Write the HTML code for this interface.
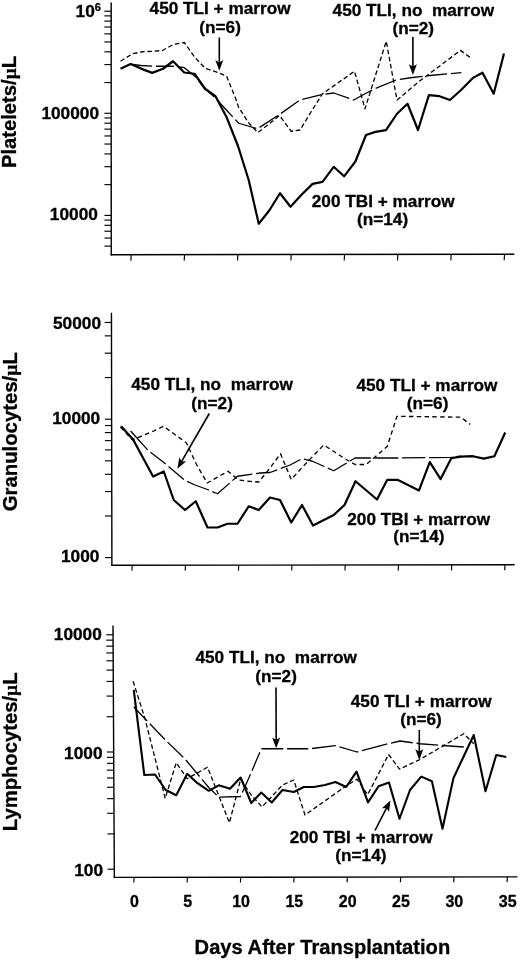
<!DOCTYPE html>
<html><head><meta charset="utf-8"><title>Figure</title>
<style>
html,body{margin:0;padding:0;background:#fff;}
svg{display:block;}
text{font-family:"Liberation Sans",sans-serif;font-weight:bold;fill:#000;stroke:#000;stroke-width:0.3px;}
.mu{font-family:"Liberation Serif","DejaVu Serif",serif;font-weight:bold;font-size:19px;}
</style></head><body>
<svg width="520" height="960" viewBox="0 0 520 960">
<rect width="520" height="960" fill="#fff"/>
<line x1="111.15" y1="2.40" x2="111.25" y2="255.40" stroke="#000" stroke-width="1.4" />
<line x1="110.55" y1="254.70" x2="514.30" y2="254.30" stroke="#000" stroke-width="1.4" />
<line x1="104.35" y1="11.20" x2="111.15" y2="11.20" stroke="#000" stroke-width="1.15" />
<line x1="104.36" y1="15.87" x2="111.16" y2="15.87" stroke="#000" stroke-width="1.15" />
<line x1="104.36" y1="21.09" x2="111.16" y2="21.09" stroke="#000" stroke-width="1.15" />
<line x1="104.36" y1="27.02" x2="111.16" y2="27.02" stroke="#000" stroke-width="1.15" />
<line x1="104.36" y1="33.85" x2="111.16" y2="33.85" stroke="#000" stroke-width="1.15" />
<line x1="104.37" y1="41.94" x2="111.17" y2="41.94" stroke="#000" stroke-width="1.15" />
<line x1="104.37" y1="51.83" x2="111.17" y2="51.83" stroke="#000" stroke-width="1.15" />
<line x1="104.37" y1="64.59" x2="111.17" y2="64.59" stroke="#000" stroke-width="1.15" />
<line x1="104.38" y1="82.56" x2="111.18" y2="82.56" stroke="#000" stroke-width="1.15" />
<line x1="104.39" y1="113.30" x2="111.19" y2="113.30" stroke="#000" stroke-width="1.15" />
<line x1="104.40" y1="117.97" x2="111.20" y2="117.97" stroke="#000" stroke-width="1.15" />
<line x1="104.40" y1="123.19" x2="111.20" y2="123.19" stroke="#000" stroke-width="1.15" />
<line x1="104.40" y1="129.12" x2="111.20" y2="129.12" stroke="#000" stroke-width="1.15" />
<line x1="104.40" y1="135.95" x2="111.20" y2="135.95" stroke="#000" stroke-width="1.15" />
<line x1="104.41" y1="144.04" x2="111.21" y2="144.04" stroke="#000" stroke-width="1.15" />
<line x1="104.41" y1="153.93" x2="111.21" y2="153.93" stroke="#000" stroke-width="1.15" />
<line x1="104.42" y1="166.69" x2="111.22" y2="166.69" stroke="#000" stroke-width="1.15" />
<line x1="104.42" y1="184.66" x2="111.22" y2="184.66" stroke="#000" stroke-width="1.15" />
<line x1="104.43" y1="215.40" x2="111.23" y2="215.40" stroke="#000" stroke-width="1.15" />
<line x1="104.44" y1="220.07" x2="111.24" y2="220.07" stroke="#000" stroke-width="1.15" />
<line x1="104.44" y1="225.29" x2="111.24" y2="225.29" stroke="#000" stroke-width="1.15" />
<line x1="104.44" y1="231.22" x2="111.24" y2="231.22" stroke="#000" stroke-width="1.15" />
<line x1="104.44" y1="238.05" x2="111.24" y2="238.05" stroke="#000" stroke-width="1.15" />
<line x1="104.45" y1="246.14" x2="111.25" y2="246.14" stroke="#000" stroke-width="1.15" />
<line x1="131.20" y1="254.68" x2="130.90" y2="260.68" stroke="#000" stroke-width="1.15" />
<line x1="184.53" y1="254.63" x2="184.23" y2="260.63" stroke="#000" stroke-width="1.15" />
<line x1="237.86" y1="254.57" x2="237.56" y2="260.57" stroke="#000" stroke-width="1.15" />
<line x1="291.19" y1="254.52" x2="290.89" y2="260.52" stroke="#000" stroke-width="1.15" />
<line x1="344.52" y1="254.47" x2="344.22" y2="260.47" stroke="#000" stroke-width="1.15" />
<line x1="397.85" y1="254.42" x2="397.55" y2="260.42" stroke="#000" stroke-width="1.15" />
<line x1="451.18" y1="254.36" x2="450.88" y2="260.36" stroke="#000" stroke-width="1.15" />
<line x1="504.51" y1="254.31" x2="504.21" y2="260.31" stroke="#000" stroke-width="1.15" />
<text transform="translate(99.00,119.00) scale(1.08,1.0)" font-size="16" text-anchor="end" >100000</text>
<text transform="translate(97.90,220.10) scale(1.08,1.0)" font-size="16" text-anchor="end" >10000</text>
<text transform="translate(75.6,16.5) scale(1.05,1)" font-size="16.5">10<tspan font-size="10.5" dy="-5.6">6</tspan></text>
<text transform="translate(15.8,168.1) rotate(-90) scale(1.012,1.0)" font-size="20">Platelets/<tspan class="mu">µ</tspan>L</text>
<polyline points="130.50,64.25 141.00,65.50 152.50,66.25 172.50,66.25 184.00,67.50 195.00,76.25 205.00,88.75 215.00,97.50 227.50,111.25 238.75,123.25 257.50,128.75 278.75,115.00 300.00,100.00 322.50,94.50 333.75,93.00 353.75,100.00 365.00,93.75 375.00,88.75 396.00,80.00 412.50,77.50 430.00,75.50 461.30,72.70" fill="none" stroke="#000" stroke-width="1.3" stroke-linejoin="round" stroke-dasharray="21.7 3.8 18.1 3.8 21.8 3.8 23.2 3.8 23.3 3.8 23.2 3.8 21.8 3.8 21.8 3.8 19.9 3.8 24.8 3.8 22.0 3.8 22.1 3.8 23.0 3.8 20.8 3.8 15.5 0"/>
<polyline points="120.50,61.25 132.50,53.75 142.50,51.75 152.50,51.25 162.50,50.50 173.75,44.25 184.25,42.50 195.00,57.50 205.10,68.20 219.20,73.00 226.60,76.30 235.50,98.20 238.75,107.50 248.75,123.00 257.80,132.60 269.00,124.00 279.50,115.50 291.25,131.25 300.00,130.00 311.00,112.00 322.50,93.75 354.50,71.25 365.00,108.75 386.25,41.25 397.00,100.00 420.00,80.80 460.40,50.40 472.00,58.70" fill="none" stroke="#000" stroke-width="1.3" stroke-linejoin="round" stroke-dasharray="4.6 2.7"/>
<polyline points="120.50,68.75 130.60,64.10 141.00,68.60 152.20,72.90 163.00,68.75 173.00,61.25 184.25,72.50 194.50,73.75 205.00,88.75 215.50,96.25 226.50,117.00 238.00,146.00 248.70,180.00 258.75,223.75 269.25,210.50 280.00,193.25 290.50,206.75 301.25,195.00 312.60,183.90 322.50,181.80 333.70,166.80 344.10,176.30 355.40,161.50 366.00,135.00 375.50,131.90 386.00,130.20 397.00,113.75 407.50,103.75 418.00,130.00 428.90,95.10 439.50,96.20 450.00,100.00 461.30,89.80 472.90,77.90 482.50,72.70 493.70,93.70 504.00,53.50" fill="none" stroke="#000" stroke-width="2.2" stroke-linejoin="round"/>
<text transform="translate(149.60,14.40) scale(1.0,0.97)" font-size="17.2" text-anchor="start" >450 TLI + marrow</text>
<text transform="translate(199.30,33.20) scale(1.0,0.97)" font-size="17.2" text-anchor="start" >(n=6)</text>
<line x1="219.30" y1="37.50" x2="219.30" y2="67.80" stroke="#000" stroke-width="1.6" />
<polygon points="219.30,70.80 215.30,60.00 219.30,62.38 223.30,60.00" fill="#000"/>
<text transform="translate(332.60,15.70) scale(1.0,0.97)" font-size="17.2" text-anchor="start" xml:space="preserve" style="white-space:pre">450 TLI, no  marrow</text>
<text transform="translate(392.40,34.40) scale(1.0,0.97)" font-size="17.2" text-anchor="start" >(n=2)</text>
<line x1="412.90" y1="37.00" x2="412.90" y2="72.00" stroke="#000" stroke-width="1.6" />
<polygon points="412.90,75.00 408.90,64.20 412.90,66.58 416.90,64.20" fill="#000"/>
<text transform="translate(311.80,206.80) scale(1.0,0.97)" font-size="17.2" text-anchor="start" >200 TBI + marrow</text>
<text transform="translate(357.00,224.50) scale(1.0,0.97)" font-size="17.2" text-anchor="start" >(n=14)</text>
<line x1="111.45" y1="312.80" x2="111.90" y2="566.00" stroke="#000" stroke-width="1.4" />
<line x1="111.20" y1="565.30" x2="514.60" y2="564.80" stroke="#000" stroke-width="1.4" />
<line x1="104.67" y1="322.46" x2="111.47" y2="322.46" stroke="#000" stroke-width="1.15" />
<line x1="104.69" y1="335.87" x2="111.49" y2="335.87" stroke="#000" stroke-width="1.15" />
<line x1="104.72" y1="353.17" x2="111.52" y2="353.17" stroke="#000" stroke-width="1.15" />
<line x1="104.77" y1="377.54" x2="111.57" y2="377.54" stroke="#000" stroke-width="1.15" />
<line x1="104.84" y1="419.20" x2="111.64" y2="419.20" stroke="#000" stroke-width="1.15" />
<line x1="104.85" y1="425.53" x2="111.65" y2="425.53" stroke="#000" stroke-width="1.15" />
<line x1="104.86" y1="432.61" x2="111.66" y2="432.61" stroke="#000" stroke-width="1.15" />
<line x1="104.88" y1="440.64" x2="111.68" y2="440.64" stroke="#000" stroke-width="1.15" />
<line x1="104.89" y1="449.90" x2="111.69" y2="449.90" stroke="#000" stroke-width="1.15" />
<line x1="104.91" y1="460.86" x2="111.71" y2="460.86" stroke="#000" stroke-width="1.15" />
<line x1="104.94" y1="474.27" x2="111.74" y2="474.27" stroke="#000" stroke-width="1.15" />
<line x1="104.97" y1="491.57" x2="111.77" y2="491.57" stroke="#000" stroke-width="1.15" />
<line x1="105.01" y1="515.94" x2="111.81" y2="515.94" stroke="#000" stroke-width="1.15" />
<line x1="105.09" y1="557.60" x2="111.89" y2="557.60" stroke="#000" stroke-width="1.15" />
<line x1="132.20" y1="565.27" x2="131.90" y2="570.77" stroke="#000" stroke-width="1.15" />
<line x1="185.46" y1="565.21" x2="185.16" y2="570.71" stroke="#000" stroke-width="1.15" />
<line x1="238.72" y1="565.14" x2="238.42" y2="570.64" stroke="#000" stroke-width="1.15" />
<line x1="291.98" y1="565.08" x2="291.68" y2="570.58" stroke="#000" stroke-width="1.15" />
<line x1="345.24" y1="565.01" x2="344.94" y2="570.51" stroke="#000" stroke-width="1.15" />
<line x1="398.50" y1="564.94" x2="398.20" y2="570.44" stroke="#000" stroke-width="1.15" />
<line x1="451.76" y1="564.88" x2="451.46" y2="570.38" stroke="#000" stroke-width="1.15" />
<line x1="505.02" y1="564.81" x2="504.72" y2="570.31" stroke="#000" stroke-width="1.15" />
<text transform="translate(101.00,328.50) scale(1.08,1.0)" font-size="16" text-anchor="end" >50000</text>
<text transform="translate(100.20,424.00) scale(1.08,1.0)" font-size="16" text-anchor="end" >10000</text>
<text transform="translate(99.40,561.50) scale(1.08,1.0)" font-size="16" text-anchor="end" >1000</text>
<text transform="translate(16.5,511.3) rotate(-90) scale(1.017,1.0)" font-size="20">Granulocytes/<tspan class="mu">µ</tspan>L</text>
<polyline points="130.60,431.00 148.50,450.80 163.80,462.50 185.00,480.50 195.00,485.00 207.50,489.50 217.50,493.75 237.50,476.25 260.00,473.00 270.00,472.50 290.00,465.00 302.00,458.75 312.50,461.25 323.75,466.25 333.75,470.75 355.00,458.00 400.00,458.00 451.40,457.30 460.80,456.20" fill="none" stroke="#000" stroke-width="1.3" stroke-linejoin="round" stroke-dasharray="25.4 3.8 19.1 3.8 20.2 3.8 23.4 3.8 21.7 3.8 21.6 3.8 21.7 3.8 21.7 3.8 21.7 3.8 21.6 3.8 21.7 3.8 23.6 3.8 23.2 3.8 23.2 3.8 11.6 0"/>
<polyline points="120.40,426.90 132.30,439.80 143.20,435.50 153.80,431.00 163.50,426.20 186.50,443.00 196.25,464.00 207.20,483.00 228.00,471.25 238.75,480.00 248.75,481.25 258.75,482.00 270.00,468.00 280.50,453.75 291.25,479.50 302.00,467.50 323.75,445.00 345.00,458.75 355.00,464.50 366.25,464.50 387.20,446.50 397.00,416.30 460.80,417.20 470.20,424.40" fill="none" stroke="#000" stroke-width="1.35" stroke-linejoin="round" stroke-dasharray="4.5 3.3"/>
<polyline points="121.10,426.20 133.10,439.50 142.40,456.70 153.10,476.50 163.80,471.50 173.75,500.00 185.00,510.00 195.75,501.25 207.50,527.50 217.50,527.50 227.50,523.75 237.50,523.75 248.75,506.25 258.75,510.00 270.00,497.50 280.00,500.00 291.25,522.50 302.00,505.00 313.00,525.50 333.75,515.00 344.50,505.00 355.50,481.25 377.00,499.50 387.30,479.80 397.50,479.80 419.00,490.40 429.80,462.10 440.60,479.10 451.40,458.10 460.80,456.70 472.90,456.20 483.70,458.60 494.40,456.20 505.20,432.50" fill="none" stroke="#000" stroke-width="2.2" stroke-linejoin="round"/>
<text transform="translate(131.30,390.40) scale(1.0,0.97)" font-size="17.2" text-anchor="start" xml:space="preserve" style="white-space:pre">450 TLI, no  marrow</text>
<text transform="translate(191.30,408.90) scale(1.0,0.97)" font-size="17.2" text-anchor="start" >(n=2)</text>
<line x1="209.30" y1="413.50" x2="178.90" y2="466.10" stroke="#000" stroke-width="1.6" />
<polygon points="177.40,468.70 179.34,457.35 181.61,461.41 186.27,461.35" fill="#000"/>
<text transform="translate(356.50,391.20) scale(1.0,0.97)" font-size="17.2" text-anchor="start" >450 TLI + marrow</text>
<text transform="translate(406.80,409.00) scale(1.0,0.97)" font-size="17.2" text-anchor="start" >(n=6)</text>
<text transform="translate(347.30,524.70) scale(1.0,0.97)" font-size="17.2" text-anchor="start" >200 TBI + marrow</text>
<text transform="translate(393.30,542.20) scale(1.0,0.97)" font-size="17.2" text-anchor="start" >(n=14)</text>
<line x1="113.00" y1="625.60" x2="114.35" y2="878.10" stroke="#000" stroke-width="1.4" />
<line x1="113.65" y1="877.40" x2="517.50" y2="876.90" stroke="#000" stroke-width="1.4" />
<line x1="106.25" y1="634.80" x2="113.05" y2="634.80" stroke="#000" stroke-width="1.15" />
<line x1="106.28" y1="640.16" x2="113.08" y2="640.16" stroke="#000" stroke-width="1.15" />
<line x1="106.31" y1="646.16" x2="113.11" y2="646.16" stroke="#000" stroke-width="1.15" />
<line x1="106.35" y1="652.95" x2="113.15" y2="652.95" stroke="#000" stroke-width="1.15" />
<line x1="106.39" y1="660.80" x2="113.19" y2="660.80" stroke="#000" stroke-width="1.15" />
<line x1="106.44" y1="670.08" x2="113.24" y2="670.08" stroke="#000" stroke-width="1.15" />
<line x1="106.50" y1="681.44" x2="113.30" y2="681.44" stroke="#000" stroke-width="1.15" />
<line x1="106.58" y1="696.08" x2="113.38" y2="696.08" stroke="#000" stroke-width="1.15" />
<line x1="106.69" y1="716.72" x2="113.49" y2="716.72" stroke="#000" stroke-width="1.15" />
<line x1="106.88" y1="752.00" x2="113.68" y2="752.00" stroke="#000" stroke-width="1.15" />
<line x1="106.91" y1="757.36" x2="113.71" y2="757.36" stroke="#000" stroke-width="1.15" />
<line x1="106.94" y1="763.36" x2="113.74" y2="763.36" stroke="#000" stroke-width="1.15" />
<line x1="106.98" y1="770.15" x2="113.78" y2="770.15" stroke="#000" stroke-width="1.15" />
<line x1="107.02" y1="778.00" x2="113.82" y2="778.00" stroke="#000" stroke-width="1.15" />
<line x1="107.07" y1="787.28" x2="113.87" y2="787.28" stroke="#000" stroke-width="1.15" />
<line x1="107.13" y1="798.64" x2="113.93" y2="798.64" stroke="#000" stroke-width="1.15" />
<line x1="107.21" y1="813.28" x2="114.01" y2="813.28" stroke="#000" stroke-width="1.15" />
<line x1="107.32" y1="833.92" x2="114.12" y2="833.92" stroke="#000" stroke-width="1.15" />
<line x1="107.51" y1="869.20" x2="114.31" y2="869.20" stroke="#000" stroke-width="1.15" />
<line x1="134.10" y1="877.38" x2="133.80" y2="882.58" stroke="#000" stroke-width="1.15" />
<line x1="187.42" y1="877.31" x2="187.12" y2="882.51" stroke="#000" stroke-width="1.15" />
<line x1="240.74" y1="877.24" x2="240.44" y2="882.44" stroke="#000" stroke-width="1.15" />
<line x1="294.06" y1="877.18" x2="293.76" y2="882.38" stroke="#000" stroke-width="1.15" />
<line x1="347.38" y1="877.11" x2="347.08" y2="882.31" stroke="#000" stroke-width="1.15" />
<line x1="400.70" y1="877.04" x2="400.40" y2="882.24" stroke="#000" stroke-width="1.15" />
<line x1="454.02" y1="876.98" x2="453.72" y2="882.18" stroke="#000" stroke-width="1.15" />
<line x1="507.34" y1="876.91" x2="507.04" y2="882.11" stroke="#000" stroke-width="1.15" />
<text transform="translate(134.40,907.00) scale(1.0,1.06)" font-size="16" text-anchor="middle" >0</text>
<text transform="translate(187.72,907.00) scale(1.0,1.06)" font-size="16" text-anchor="middle" >5</text>
<text transform="translate(241.04,907.00) scale(1.0,1.06)" font-size="16" text-anchor="middle" >10</text>
<text transform="translate(294.36,907.00) scale(1.0,1.06)" font-size="16" text-anchor="middle" >15</text>
<text transform="translate(347.68,907.00) scale(1.0,1.06)" font-size="16" text-anchor="middle" >20</text>
<text transform="translate(401.00,907.00) scale(1.0,1.06)" font-size="16" text-anchor="middle" >25</text>
<text transform="translate(454.32,907.00) scale(1.0,1.06)" font-size="16" text-anchor="middle" >30</text>
<text transform="translate(507.64,907.00) scale(1.0,1.06)" font-size="16" text-anchor="middle" >35</text>
<text transform="translate(101.80,640.10) scale(1.08,1.0)" font-size="16" text-anchor="end" >10000</text>
<text transform="translate(102.50,758.60) scale(1.08,1.0)" font-size="16" text-anchor="end" >1000</text>
<text transform="translate(103.00,875.50) scale(1.08,1.0)" font-size="16" text-anchor="end" >100</text>
<text transform="translate(17.0,831.2) rotate(-90) scale(1.012,1.0)" font-size="20">Lymphocytes/<tspan class="mu">µ</tspan>L</text>
<polyline points="133.75,707.00 148.50,722.30 166.20,740.80 184.60,758.50 208.75,787.50 218.75,797.20 240.50,796.50 251.25,772.50 261.25,748.75 310.00,748.75 335.40,745.60 357.00,752.00 384.60,744.60 400.00,741.00 420.00,743.75 442.50,745.50 463.75,747.00" fill="none" stroke="#000" stroke-width="1.3" stroke-linejoin="round" stroke-dasharray="19.4 3.8 21.8 3.8 21.7 3.8 21.5 3.8 21.5 3.8 21.6 3.8 20.0 3.8 20.1 3.8 21.9 3.8 21.2 3.8 24.0 3.8 19.6 3.8 26.2 3.8 22.1 3.8 21.8 3.8 27.0 0"/>
<polyline points="133.10,681.25 145.00,718.75 165.20,798.40 176.25,762.70 187.20,778.75 207.50,767.20 218.75,795.60 229.40,822.80 240.60,779.40 251.25,795.00 262.00,807.00 282.50,785.00 293.75,780.00 305.00,815.00 346.00,786.00 357.00,779.20 367.70,794.60 388.60,754.50 399.50,769.10 420.00,759.50 463.75,733.75 473.75,743.75" fill="none" stroke="#000" stroke-width="1.3" stroke-linejoin="round" stroke-dasharray="4.6 2.7"/>
<polyline points="133.75,690.00 144.30,775.00 155.00,774.50 165.70,790.00 176.25,795.20 187.20,773.75 197.50,783.20 208.75,790.80 218.75,785.30 230.00,788.75 240.60,777.50 251.25,803.00 261.25,792.50 271.75,802.50 282.50,790.00 293.75,792.00 303.75,787.00 313.75,787.00 325.00,785.00 335.40,782.00 346.20,787.00 356.50,771.70 368.00,802.40 378.60,786.20 389.00,782.60 399.50,818.75 410.00,790.00 421.25,776.60 431.90,781.25 442.50,828.75 453.40,778.20 463.75,756.25 473.75,735.00 485.50,791.25 496.25,755.00 506.25,757.00" fill="none" stroke="#000" stroke-width="2.1" stroke-linejoin="round"/>
<text transform="translate(195.50,663.20) scale(1.0,0.97)" font-size="17.2" text-anchor="start" xml:space="preserve" style="white-space:pre">450 TLI, no  marrow</text>
<text transform="translate(255.30,682.00) scale(1.0,0.97)" font-size="17.2" text-anchor="start" >(n=2)</text>
<line x1="276.00" y1="687.50" x2="276.19" y2="745.30" stroke="#000" stroke-width="1.6" />
<polygon points="276.20,748.30 272.16,737.51 276.17,739.88 280.16,737.49" fill="#000"/>
<text transform="translate(350.80,706.60) scale(1.0,0.97)" font-size="17.2" text-anchor="start" >450 TLI + marrow</text>
<text transform="translate(400.20,725.00) scale(1.0,0.97)" font-size="17.2" text-anchor="start" >(n=6)</text>
<line x1="419.30" y1="730.00" x2="419.30" y2="757.00" stroke="#000" stroke-width="1.6" />
<polygon points="419.30,760.00 415.30,749.20 419.30,751.58 423.30,749.20" fill="#000"/>
<text transform="translate(289.70,843.00) scale(1.0,0.97)" font-size="17.2" text-anchor="start" >200 TBI + marrow</text>
<text transform="translate(335.30,860.60) scale(1.0,0.97)" font-size="17.2" text-anchor="start" >(n=14)</text>
<line x1="375.00" y1="830.50" x2="389.03" y2="803.17" stroke="#000" stroke-width="1.6" />
<polygon points="390.40,800.50 389.03,811.93 386.55,807.99 381.91,808.28" fill="#000"/>
<text transform="translate(194.60,954.00) scale(1.0,0.97)" font-size="20.15" text-anchor="start" >Days After Transplantation</text>
</svg>
</body></html>
